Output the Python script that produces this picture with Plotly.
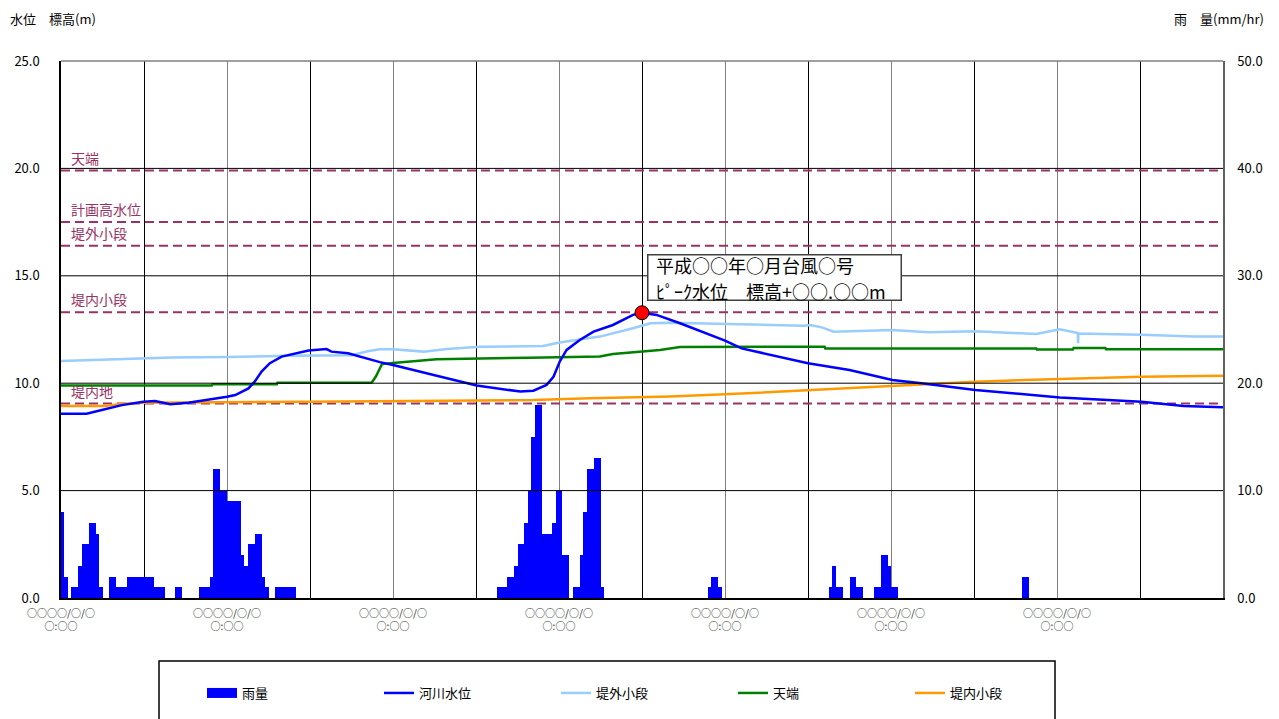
import plotly.graph_objects as go

# ---------------- data ----------------
# time axis in hours from the first day 0:00 (7 days)
day_ticks = [0, 24, 48, 72, 96, 120, 144]
day_labels = ["○○○○/○/○<br>○:○○"] * 7

# rainfall (mm/hr), 30-minute bars: left edge hour and value
rain_time = [0.0, 0.5, 1.5, 2.0, 2.5, 3.0, 3.5, 4.0, 4.5, 5.0, 5.5,
             7.0, 7.5, 8.0, 8.5, 9.0, 9.5, 10.0, 10.5, 11.0, 11.5, 12.0, 12.5, 13.0,
             13.5, 14.0, 14.5, 16.5, 17.0,
             20.0, 20.5, 21.0, 21.5, 22.0, 22.5, 23.0, 23.5, 24.0, 24.5, 25.0, 25.5,
             26.0, 26.5, 27.0, 27.5, 28.0, 28.5, 29.0, 29.5, 31.0, 31.5, 32.0, 32.5, 33.0, 33.5,
             63.0, 63.5, 64.0, 64.5, 65.0, 65.5, 66.0, 66.5, 67.0, 67.5, 68.0, 68.5, 69.0,
             69.5, 70.0, 70.5, 71.0, 71.5, 72.0, 72.5, 73.0, 74.0, 74.5, 75.0, 75.5, 76.0,
             76.5, 77.0, 77.5, 78.0,
             93.5, 94.0, 94.5, 95.0,
             111.0, 111.5, 112.0, 112.5,
             114.0, 114.5, 115.0, 115.5,
             117.5, 118.0, 118.5, 119.0, 119.5, 120.0, 120.5,
             139.0, 139.5]
rain_mm = [8, 2, 1, 1, 3, 5, 5, 7, 7, 6, 1,
           2, 2, 1, 1, 1, 2, 2, 2, 2, 2, 2, 2, 2,
           1, 1, 1, 1, 1,
           1, 1, 1, 2, 12, 12, 10, 10, 9, 9, 9, 9,
           4, 3, 5, 5, 6, 6, 2, 1, 1, 1, 1, 1, 1, 1,
           1, 1, 1, 2, 2, 3, 5, 5, 7, 10, 15, 18, 18,
           6, 6, 6, 7, 10, 10, 4, 4, 1, 1, 4, 8, 12,
           12, 13, 13, 1,
           1, 2, 2, 1,
           1, 3, 1, 1,
           2, 2, 1, 1,
           1, 1, 4, 4, 3, 1, 1,
           2, 2]

# river water level (m)
river_t = [0, 3.7, 5.9, 8.8, 11.9, 13.6, 15.8, 18.4, 24, 25.2, 27.1, 28, 29, 30.2, 31.9,
           33.8, 35.8, 38.4, 39.1, 41.5, 44, 46.1, 48, 50.9, 55.8, 60.1, 64.4, 66.4,
           68.3, 70.2, 71.2, 72.1, 73.1, 75, 77, 79.8, 82.7, 84, 86.1, 89.5, 96, 98.4,
           108, 114, 120.2, 124.4, 132.2, 144.4, 156.2, 162.3, 168]
river_v = [8.58, 8.58, 8.75, 8.98, 9.14, 9.17, 9.02, 9.09, 9.37, 9.45, 9.76, 10.07, 10.54,
           10.93, 11.24, 11.39, 11.52, 11.59, 11.47, 11.39, 11.16, 10.98, 10.85, 10.61,
           10.23, 9.89, 9.68, 9.61, 9.65, 9.92, 10.3, 11.0, 11.55, 12.01, 12.4, 12.71,
           13.18, 13.28, 13.18, 12.79, 11.98, 11.62, 10.93, 10.61, 10.15, 10.0, 9.68,
           9.34, 9.14, 8.94, 8.88]

# outer berm (堤外小段) series
outer_t = [0, 4.4, 9.3, 16, 24, 32.9, 42, 44.5, 46.1, 48, 52.4, 55.8, 60.6, 69.7, 72.1,
           77.9, 82.7, 85.2, 88, 98.4, 107.3, 108.3, 110, 111.7, 120.2, 125.4, 132.2,
           141, 144.4, 147, 147.05, 147.1, 156.2, 163.8, 168]
outer_v = [11.03, 11.08, 11.13, 11.2, 11.22, 11.28, 11.3, 11.5, 11.58, 11.58, 11.47, 11.59,
           11.7, 11.73, 11.89, 12.17, 12.56, 12.79, 12.82, 12.76, 12.68, 12.71, 12.6, 12.4,
           12.48, 12.37, 12.42, 12.29, 12.51, 12.34, 11.86, 12.31, 12.26, 12.17, 12.17]

# crest (天端) series
crest_t = [0, 21.8, 21.9, 31.2, 31.3, 44.9, 45.5, 46.4, 48, 54.3, 67.8, 77.9, 79.8, 86.6,
           89.5, 110.4, 110.5, 141, 141.1, 146.3, 146.4, 151, 151.1, 168]
crest_v = [9.89, 9.89, 9.95, 9.95, 10.02, 10.02, 10.3, 10.89, 10.94, 11.11, 11.19, 11.24,
           11.36, 11.55, 11.68, 11.7, 11.62, 11.62, 11.57, 11.57, 11.64, 11.64, 11.58, 11.58]

# inner berm (堤内小段) series
inner_t = [0, 6.3, 8.8, 11.8, 35.8, 46.8, 68.3, 76.5, 88, 96, 108, 120.2, 132.2, 144.4,
           156.2, 168]
inner_v = [8.94, 8.94, 9.03, 9.09, 9.14, 9.16, 9.22, 9.3, 9.38, 9.48, 9.68, 9.87, 10.07,
           10.2, 10.3, 10.35]

# reference levels (dashed)
ref_names = ["天端", "計画高水位", "堤外小段", "堤内小段", "堤内地"]
ref_levels = [19.9, 17.5, 16.4, 13.3, 9.05]

peak_t = 84
peak_v = 13.28
peak_lines = ["平成○○年○月台風○号", "ﾋﾟｰｸ水位　標高+○○.○○m"]

# ---------------- figure ----------------
FONT = "Noto Sans CJK JP"
OFF = 8                      # page body margin of the written html
W, H = 1279 - OFF, 719 - OFF
ML, MR, MT, MB = 61 - OFF, 56, 61 - OFF, 121
PW, PH = W - ML - MR, H - MT - MB   # 1162 x 537
PX0, PY1 = 61, 598                  # plot area left / bottom on screen
X0, X1 = 0, 168
fig = go.Figure()

fig.add_trace(go.Bar(x=rain_time, y=rain_mm, width=0.5, offset=0, name="雨量",
                     marker=dict(color="#0000FF", line=dict(width=0)),
                     yaxis="y2", showlegend=False))
# legend entry for rainfall (wide block symbol)
fig.add_trace(go.Scatter(x=[None], y=[None], mode="lines", name="雨量",
                         line=dict(color="#0000FF", width=12), legendrank=1))

for name, lvl in zip(ref_names, ref_levels):
    fig.add_trace(go.Scatter(x=[X0, X1], y=[lvl, lvl], mode="lines", showlegend=False,
                             line=dict(color="#993366", width=2, dash="9px,5px"),
                             hoverinfo="skip"))

fig.add_trace(go.Scatter(x=outer_t, y=outer_v, mode="lines", name="堤外小段",
                         line=dict(color="#99CCFF", width=2.5), legendrank=3))
fig.add_trace(go.Scatter(x=crest_t, y=crest_v, mode="lines", name="天端",
                         line=dict(color="#008000", width=2.5), legendrank=4))
fig.add_trace(go.Scatter(x=inner_t, y=inner_v, mode="lines", name="堤内小段",
                         line=dict(color="#FF9900", width=2.5), legendrank=5))
fig.add_trace(go.Scatter(x=river_t, y=river_v, mode="lines", name="河川水位",
                         line=dict(color="#0000FF", width=2.5), legendrank=2))
fig.add_trace(go.Scatter(x=[peak_t], y=[peak_v], mode="markers", showlegend=False,
                         marker=dict(color="#FF0000", size=14,
                                     line=dict(color="black", width=1))))

# reference level labels
for name, lvl in zip(ref_names, ref_levels):
    fig.add_annotation(x=0, y=lvl, xref="x", yref="y", text=name, showarrow=False,
                       xanchor="left", yanchor="bottom", xshift=8, yshift=1,
                       font=dict(family=FONT, size=14, color="#993366"))

# horizontal grid lines above the bars
for gy in [5, 10, 15, 20]:
    fig.add_shape(type="line", xref="paper", yref="y", x0=0, x1=1, y0=gy, y1=gy,
                  line=dict(color="black", width=1), layer="above")
fig.add_shape(type="line", xref="paper", yref="paper", x0=0, x1=1, y0=1, y1=1,
              line=dict(color="#808080", width=1.5), layer="above")

# peak annotation: framed box, then its two text lines
fig.add_annotation(x=peak_t, y=peak_v, xref="x", yref="y", text=" ",
                   showarrow=False, xanchor="left", yanchor="bottom",
                   xshift=5, yshift=12, width=252, height=44,
                   bgcolor="white", bordercolor="#404040", borderwidth=1.5, borderpad=0)
for line_txt, ysh in zip(peak_lines, [48, 21.5]):
    fig.add_annotation(x=peak_t, y=peak_v, xref="x", yref="y", text=line_txt,
                       showarrow=False, xanchor="left", yanchor="middle",
                       xshift=12, yshift=ysh,
                       font=dict(family=FONT, size=18, color="black"))

# axis titles
fig.add_annotation(x=(8 - PX0) / PW, y=1 + (61 - 18) / PH, xref="paper", yref="paper",
                   text="水位　標高(m)", showarrow=False, xanchor="left",
                   yanchor="middle", font=dict(family=FONT, size=13, color="black"))
fig.add_annotation(x=(1266 - PX0) / PW, y=1 + (61 - 18) / PH, xref="paper", yref="paper",
                   text="雨　量(mm/hr)", showarrow=False, xanchor="right",
                   yanchor="middle", font=dict(family=FONT, size=13, color="black"))

# legend border
fig.add_shape(type="rect", xref="paper", yref="paper",
              x0=(159 - PX0) / PW, x1=(1055 - PX0) / PW,
              y0=-(661 - PY1) / PH, y1=-(740 - PY1) / PH,
              line=dict(color="black", width=1.5), fillcolor="rgba(0,0,0,0)")

fig.update_layout(
    width=W, height=H,
    margin=dict(l=ML, r=MR, t=MT, b=MB, autoexpand=False),
    paper_bgcolor="white", plot_bgcolor="white",
    font=dict(family=FONT, size=13, color="black"),
    showlegend=True,
    bargap=0,
    legend=dict(orientation="h", xref="container", yref="container",
                x=(202 - OFF) / W, y=1 - (693 - OFF) / H,
                xanchor="left", yanchor="middle", entrywidth=132,
                entrywidthmode="pixels", font=dict(family=FONT, size=13),
                bgcolor="rgba(0,0,0,0)", traceorder="normal"),
    xaxis=dict(range=[X0, X1], tickvals=day_ticks, ticktext=day_labels,
               showgrid=True, gridcolor="#808080", gridwidth=1,
               minor=dict(dtick=12, tick0=0, showgrid=True, gridcolor="black",
                          gridwidth=1),
               showline=True, linecolor="black", linewidth=1.5, zeroline=False,
               ticks="", ticklabelstandoff=5, automargin=False,
               tickfont=dict(family=FONT, size=10, color="#222222"),
               fixedrange=True),
    yaxis=dict(range=[0, 25], dtick=5, tickformat=".1f", showgrid=False,
               showline=True, linecolor="black", linewidth=1.5, zeroline=False,
               ticks="", ticklabelstandoff=17, automargin=False,
               tickfont=dict(family=FONT, size=13, color="black")),
    yaxis2=dict(range=[0, 50], dtick=10, tickformat=".1f", overlaying="y",
                side="right", showgrid=False, showline=True, linecolor="#606060",
                linewidth=1.5, zeroline=False, ticks="", ticklabelstandoff=10,
                automargin=False,
                tickfont=dict(family=FONT, size=13, color="black")),
)

fig.write_html("out.html")
